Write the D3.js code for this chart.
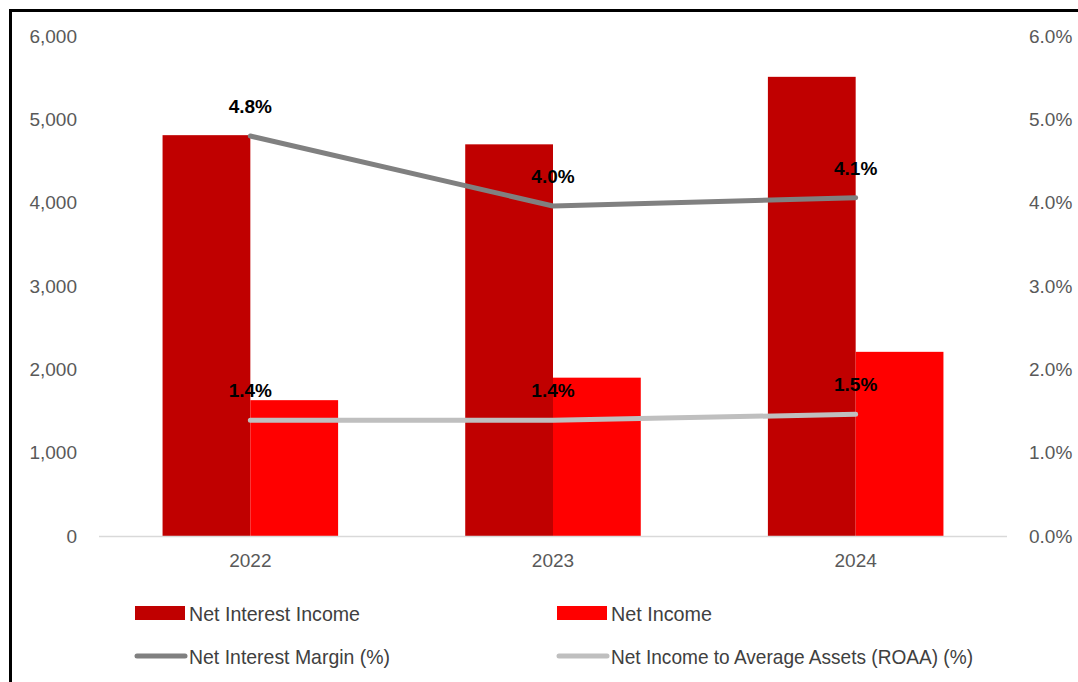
<!DOCTYPE html>
<html>
<head>
<meta charset="utf-8">
<script src="https://cdn.jsdelivr.net/npm/d3@7"></script>
<style>
  html, body { margin: 0; padding: 0; background: #ffffff; }
  svg { display: block; }
</style>
</head>
<body>
<svg id="chart" width="1078" height="682"></svg>
<script>
// Yearly figures
const years = ["2022", "2023", "2024"];
const netInterestIncome = [4810, 4700, 5510];
const netIncome = [1630, 1900, 2210];
const netInterestMargin = [4.8, 3.96, 4.06];   // %
const roaa = [1.39, 1.39, 1.46];               // %
const leftTicks = [0, 1000, 2000, 3000, 4000, 5000, 6000];
const rightTicks = [0, 1, 2, 3, 4, 5, 6];

const seriesNames = ["Net Interest Income", "Net Income"];
const lineNames = ["Net Interest Margin (%)", "Net Income to Average Assets (ROAA) (%)"];
const barColors = ["#C00000", "#FF0000"];
const lineColors = ["#808080", "#BFBFBF"];

const svg = d3.select("#chart");
const W = 1078, H = 682;
const plot = { left: 99, right: 1007, top: 36, bottom: 536 };

// outer frame (runs off the right and bottom edges)
svg.append("rect")
  .attr("x", 10.5).attr("y", 10.5)
  .attr("width", W + 20).attr("height", H + 20)
  .attr("fill", "none").attr("stroke", "#000").attr("stroke-width", 3);

const x = d3.scaleBand().domain(years)
  .range([plot.left, plot.right])
  .paddingInner(0.42).paddingOuter(0.21);
const xs = d3.scaleBand().domain(seriesNames).range([0, x.bandwidth()]);
const yL = d3.scaleLinear().domain([0, 6000]).range([plot.bottom, plot.top]);
const yR = d3.scaleLinear().domain([0, 6]).range([plot.bottom, plot.top]);

const tickFont = "'Liberation Sans', Arial, sans-serif";

// left axis
const leftAxis = d3.axisLeft(yL).tickValues(leftTicks)
  .tickFormat(d3.format(",")).tickSize(0).tickPadding(0);
svg.append("g").attr("transform", `translate(77,0)`).call(leftAxis)
  .call(g => g.select(".domain").remove())
  .selectAll("text")
  .attr("fill", "#595959").attr("font-size", 19).attr("font-family", tickFont);

// right axis
const rightAxis = d3.axisRight(yR).tickValues(rightTicks)
  .tickFormat(d => d.toFixed(1) + "%").tickSize(0).tickPadding(0);
svg.append("g").attr("transform", `translate(1029,0)`).call(rightAxis)
  .call(g => g.select(".domain").remove())
  .selectAll("text")
  .attr("fill", "#595959").attr("font-size", 19).attr("font-family", tickFont);

// bars
const barData = years.map((yr, i) => ({
  year: yr,
  vals: [
    { name: seriesNames[0], v: netInterestIncome[i], c: barColors[0] },
    { name: seriesNames[1], v: netIncome[i], c: barColors[1] }
  ]
}));
const groups = svg.append("g").selectAll("g").data(barData).join("g")
  .attr("transform", d => `translate(${x(d.year)},0)`);
groups.selectAll("rect").data(d => d.vals).join("rect")
  .attr("x", d => xs(d.name))
  .attr("width", xs.bandwidth())
  .attr("y", d => yL(d.v))
  .attr("height", d => yL(0) - yL(d.v))
  .attr("fill", d => d.c);

// baseline
svg.append("line")
  .attr("x1", plot.left).attr("x2", plot.right)
  .attr("y1", yL(0) + 0.5).attr("y2", yL(0) + 0.5)
  .attr("stroke", "#D9D9D9").attr("stroke-width", 1.5);

// category axis
const bottomAxis = d3.axisBottom(x).tickSize(0).tickPadding(0);
svg.append("g").attr("transform", `translate(0,553)`).call(bottomAxis)
  .call(g => g.select(".domain").remove())
  .selectAll("text")
  .attr("fill", "#595959").attr("font-size", 19).attr("font-family", tickFont);

// ratio lines
const cx = yr => x(yr) + x.bandwidth() / 2;
const lineGen = d3.line().x(d => cx(d.year)).y(d => yR(d.v));
const lineSeries = [
  { vals: netInterestMargin, c: lineColors[0] },
  { vals: roaa, c: lineColors[1] }
];
lineSeries.forEach(s => {
  const pts = years.map((yr, i) => ({ year: yr, v: s.vals[i] }));
  svg.append("path").datum(pts)
    .attr("d", lineGen)
    .attr("fill", "none").attr("stroke", s.c)
    .attr("stroke-width", 5).attr("stroke-linecap", "round")
    .attr("stroke-linejoin", "round");
  svg.append("g").selectAll("text").data(pts).join("text")
    .attr("x", d => cx(d.year))
    .attr("y", d => yR(d.v) - 23)
    .attr("text-anchor", "middle")
    .attr("font-family", tickFont).attr("font-weight", "bold")
    .attr("font-size", 19).attr("fill", "#000")
    .text(d => d3.format(".1f")(d.v) + "%");
});

// legend
const legendFont = "'Liberation Sans', Arial, sans-serif";
const legendItems = [
  { name: seriesNames[0], kind: "bar", c: barColors[0], x: 135, y: 613, w: 171 },
  { name: seriesNames[1], kind: "bar", c: barColors[1], x: 557, y: 613, w: 101 },
  { name: lineNames[0], kind: "line", c: lineColors[0], x: 135, y: 656, w: 201 },
  { name: lineNames[1], kind: "line", c: lineColors[1], x: 557, y: 656, w: 362 }
];
const leg = svg.append("g").selectAll("g").data(legendItems).join("g")
  .attr("transform", d => `translate(${d.x},${d.y})`);
leg.filter(d => d.kind === "bar").append("rect")
  .attr("x", 0).attr("y", -7).attr("width", 50).attr("height", 14)
  .attr("fill", d => d.c);
leg.filter(d => d.kind === "line").append("line")
  .attr("x1", 2).attr("x2", 50).attr("y1", 0).attr("y2", 0)
  .attr("stroke", d => d.c).attr("stroke-width", 5)
  .attr("stroke-linecap", "round");
leg.append("text")
  .attr("x", 54).attr("y", 7.5)
  .attr("font-family", legendFont).attr("font-size", 21)
  .attr("fill", "#404040")
  .attr("textLength", d => d.w).attr("lengthAdjust", "spacingAndGlyphs")
  .text(d => d.name);
</script>
</body>
</html>
